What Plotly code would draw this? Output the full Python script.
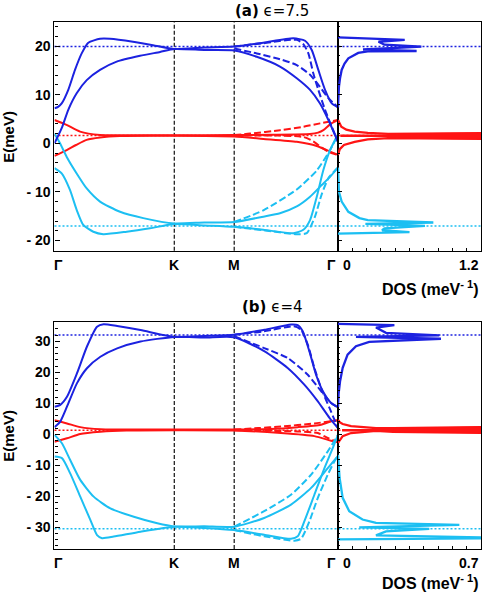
import plotly.graph_objects as go

BLUE = "#1c22e0"
RED = "#ff1414"
CYAN = "#1cbff2"

# path coordinate: Gamma=0, K=1, M=1.5, Gamma=2.366
K_X, M_X, G_X = 1.0, 1.5, 2.366

# ---------------- panel (a), eps = 7.5 ----------------
a_blue_up_x = [0, 0.03, 0.06, 0.115, 0.171, 0.227, 0.282, 0.38, 0.463, 0.655, 0.822, 1.0, 1.25, 1.5,
               1.743, 1.993, 2.091, 2.147, 2.202, 2.258, 2.314, 2.366]
a_blue_up_y = [7.2, 7.5, 8.2, 11.0, 15.1, 18.5, 20.7, 21.5, 21.5, 20.9, 20.2, 19.4, 19.7, 19.9,
               20.7, 21.6, 21.1, 19.2, 15.1, 11.0, 8.2, 7.4]
a_blue_lo_x = [0, 0.06, 0.115, 0.185, 0.269, 0.38, 0.519, 0.714, 0.881, 1.0, 1.25, 1.5,
               1.688, 1.882, 2.022, 2.133, 2.216, 2.286, 2.366]
a_blue_lo_y = [0.0, 3.1, 6.9, 10.3, 13.0, 15.1, 16.8, 18.0, 18.8, 19.4, 19.2, 19.1,
               17.8, 15.8, 13.4, 11.0, 8.2, 4.8, 0.3]
a_blue_d1_x = [1.5, 1.743, 2.022, 2.077, 2.119, 2.16, 2.202, 2.258, 2.314, 2.366]
a_blue_d1_y = [19.9, 20.6, 21.3, 20.4, 18.5, 14.4, 11.0, 6.9, 3.4, 0.3]
a_blue_d2_x = [1.5, 1.688, 1.882, 2.022, 2.133, 2.216, 2.286, 2.366]
a_blue_d2_y = [19.5, 18.5, 17.3, 16.1, 14.1, 11.6, 9.3, 7.4]

a_red_up_x = [0, 0.1, 0.213, 0.38, 0.6, 1.0, 1.5, 1.8, 2.133, 2.2, 2.244, 2.3, 2.366]
a_red_up_y = [4.8, 3.8, 2.4, 1.7, 1.65, 1.65, 1.7, 1.75, 1.9, 2.2, 2.7, 3.9, 4.8]
a_red_lo_x = [0, 0.102, 0.18, 0.268, 0.38, 0.546, 1.0, 1.5, 1.743, 2.022, 2.189, 2.3, 2.366]
a_red_lo_y = [-2.6, -1.4, -0.35, 0.7, 1.2, 1.5, 1.55, 1.4, 0.9, 0.3, -0.55, -1.7, -2.4]
a_red_d1_x = [1.5, 1.632, 1.882, 2.077, 2.216, 2.366]
a_red_d1_y = [1.7, 2.0, 2.7, 3.4, 4.1, 4.8]
a_red_d2_x = [1.5, 1.882, 2.077, 2.16, 2.23, 2.3, 2.366]
a_red_d2_y = [1.6, 1.6, 1.3, 0.4, -0.9, -1.9, -2.4]

a_cyan_up_x = [0, 0.046, 0.102, 0.185, 0.269, 0.38, 0.547, 0.741, 1.0, 1.25, 1.5,
               1.743, 1.882, 2.022, 2.133, 2.23, 2.3, 2.366]
a_cyan_up_y = [2.0, 0.0, -2.8, -6.2, -9.3, -12.0, -14.1, -15.4, -16.5, -16.3, -16.2,
               -15.1, -14.4, -13.0, -11.0, -8.6, -6.9, -5.0]
a_cyan_lo_x = [0, 0.06, 0.129, 0.185, 0.24, 0.324, 0.407, 0.603, 0.797, 1.0, 1.25, 1.5,
               1.743, 1.993, 2.077, 2.133, 2.189, 2.244, 2.3, 2.366]
a_cyan_lo_y = [-5.1, -6.2, -9.6, -13.7, -16.8, -18.2, -18.7, -18.2, -17.5, -16.6, -16.9, -17.2,
               -17.8, -18.5, -17.8, -15.8, -11.0, -5.5, -1.4, 1.8]
a_cyan_d1_x = [1.5, 1.743, 2.022, 2.189, 2.3, 2.366]
a_cyan_d1_y = [-16.2, -13.8, -9.5, -5.6, -1.4, 1.8]
a_cyan_d2_x = [1.5, 1.743, 2.022, 2.105, 2.174, 2.23, 2.29, 2.366]
a_cyan_d2_y = [-17.2, -17.9, -18.7, -18.5, -15.1, -10.5, -7.0, -5.0]

a_levels = [19.9, 1.6, -17.0]   # dotted reference lines (blue, red, cyan)

a_dos_blue_d = [0, 0.003, 0.008, 0.018, 0.031, 0.055, 0.087, 0.17, 0.25, 0.66, 0.21, 0.70, 0.39, 0.34, 0.56, 0]
a_dos_blue_e = [7.4, 9.5, 11.6, 13.5, 15.1, 16.4, 17.5, 18.6, 18.9, 19.0, 19.3, 19.9, 20.3, 20.9, 21.3, 21.8]
a_dos_red_d = [0, 0.01, 0.028, 0.07, 0.14, 0.25, 0.42, 1.3, 1.3, 0.42, 0.25, 0.14, 0.05, 0.015, 0]
a_dos_red_e = [4.8, 4.2, 3.4, 2.8, 2.4, 2.15, 1.95, 2.1, 0.9, 1.05, 0.8, 0.3, -0.35, -1.2, -2.4]
a_dos_red_mid_d = [0.02, 0.45]
a_dos_red_mid_e = [1.55, 1.55]
a_dos_red_peak_d = [0.42, 1.3, 1.3, 0.42]
a_dos_red_peak_e = [1.95, 2.1, 0.9, 1.05]
a_dos_cyan_d = [0, 0.003, 0.008, 0.031, 0.087, 0.18, 0.25, 0.80, 0.23, 0.73, 0.39, 0.37, 0.60, 0]
a_dos_cyan_e = [-5.0, -8.0, -10.0, -12.0, -14.1, -15.4, -15.8, -16.3, -16.6, -17.0, -17.5, -17.9, -18.3, -18.6]

# ---------------- panel (b), eps = 4 ----------------
b_blue_up_x = [0, 0.048, 0.104, 0.188, 0.271, 0.355, 0.41, 0.523, 0.718, 1.0, 1.25, 1.5,
               1.75, 1.974, 2.03, 2.072, 2.127, 2.183, 2.24, 2.309, 2.366]
b_blue_up_y = [8.9, 9.5, 12.1, 19.7, 28.3, 34.7, 35.5, 34.9, 33.6, 31.4, 31.7, 32.1,
               33.7, 35.4, 35.2, 33.2, 26.8, 19.2, 13.9, 10.1, 8.7]
b_blue_lo_x = [0, 0.048, 0.104, 0.188, 0.271, 0.383, 0.523, 0.718, 1.0, 1.25, 1.5,
               1.75, 1.946, 2.085, 2.198, 2.295, 2.366]
b_blue_lo_y = [2.3, 4.1, 8.9, 16.5, 21.3, 25.0, 27.7, 29.9, 31.4, 31.2, 31.3,
               26.8, 21.4, 16.0, 10.6, 5.3, 2.0]
b_blue_d1_x = [1.5, 1.748, 1.999, 2.058, 2.114, 2.169, 2.225, 2.295, 2.366]
b_blue_d1_y = [32.1, 33.2, 34.8, 33.7, 28.9, 21.4, 14.9, 8.5, 2.0]
b_blue_d2_x = [1.5, 1.75, 1.946, 2.114, 2.225, 2.309, 2.366]
b_blue_d2_y = [31.6, 27.8, 24.6, 19.2, 13.9, 10.1, 8.7]

b_red_up_x = [0, 0.104, 0.215, 0.383, 0.6, 1.0, 1.5, 1.8, 2.03, 2.225, 2.309, 2.366]
b_red_up_y = [4.5, 3.5, 2.3, 1.6, 1.55, 1.55, 1.5, 1.7, 2.3, 3.1, 4.2, 4.5]
b_red_lo_x = [0, 0.104, 0.215, 0.383, 0.6, 1.0, 1.5, 1.89, 2.169, 2.309, 2.366]
b_red_lo_y = [-2.4, -1.3, 0.1, 0.8, 1.2, 1.3, 1.2, 0.4, -0.6, -2.1, -2.6]
b_red_d1_x = [1.5, 1.7, 1.89, 2.169, 2.366]
b_red_d1_y = [1.5, 2.0, 2.5, 3.5, 4.5]
b_red_d2_x = [1.5, 2.03, 2.198, 2.28, 2.366]
b_red_d2_y = [1.3, 0.9, 0.4, -1.2, -2.6]

b_cyan_up_x = [0, 0.062, 0.131, 0.215, 0.327, 0.466, 0.662, 0.858, 1.0, 1.25, 1.5,
               1.75, 1.974, 2.142, 2.281, 2.366]
b_cyan_up_y = [-0.2, -2.9, -8.3, -14.7, -20.1, -23.9, -26.6, -28.7, -29.7, -29.7, -29.8,
               -27.0, -22.7, -17.3, -10.9, -7.0]
b_cyan_lo_x = [0, 0.062, 0.131, 0.215, 0.299, 0.355, 0.397, 0.494, 0.718, 1.0, 1.25, 1.5,
               1.75, 1.974, 2.03, 2.085, 2.169, 2.253, 2.323, 2.366]
b_cyan_lo_y = [-7.2, -7.7, -12.6, -20.1, -27.6, -32.5, -33.5, -33.0, -31.4, -29.8, -30.2, -30.9,
               -32.4, -33.7, -32.9, -28.1, -19.5, -10.9, -4.4, -0.2]
b_cyan_d1_x = [1.5, 1.75, 1.974, 2.142, 2.281, 2.366]
b_cyan_d1_y = [-29.8, -24.8, -19.5, -13.0, -5.5, -0.2]
b_cyan_d2_x = [1.5, 1.75, 2.002, 2.058, 2.127, 2.198, 2.281, 2.337, 2.366]
b_cyan_d2_y = [-30.9, -32.9, -34.3, -33.7, -28.1, -20.5, -13.0, -8.7, -7.0]

b_levels = [32.0, 1.3, -30.5]

b_dos_blue_d = [0, 0.003, 0.01, 0.023, 0.047, 0.088, 0.153, 0.504, 0.088, 0.496, 0.235, 0.186, 0.276, 0]
b_dos_blue_e = [8.8, 13.0, 17.0, 21.4, 25.7, 28.4, 29.8, 30.8, 31.4, 31.9, 32.7, 34.4, 35.2, 35.6]
b_dos_red_d = [0, 0.01, 0.023, 0.064, 0.186, 0.27, 0.8, 0.8, 0.27, 0.186, 0.064, 0.023, 0]
b_dos_red_e = [4.6, 3.8, 3.3, 2.6, 2.0, 1.95, 2.4, 0.4, 0.8, 1.1, 0.4, -0.6, -2.8]
b_dos_red_mid_d = [0.02, 0.28]
b_dos_red_mid_e = [1.3, 1.3]
b_dos_red_peak_d = [0.27, 0.8, 0.8, 0.27]
b_dos_red_peak_e = [1.95, 2.4, 0.4, 0.8]
b_dos_cyan_d = [0, 0.003, 0.008, 0.023, 0.055, 0.12, 0.186, 0.594, 0.104, 0.447, 0.235, 0.186, 0.9, 0]
b_dos_cyan_e = [-6.6, -10.0, -14.1, -20.5, -24.8, -27.5, -28.6, -29.2, -30.0, -30.5, -31.3, -32.6, -33.5, -33.9]

a_yrange = [-22.1, 24.9]
b_yrange = [-37.0, 36.2]
a_dos_max, b_dos_max = 1.2, 0.7

# layout geometry (paper fractions)
BAND_DOM = [0.1126, 0.6983]
DOS_DOM = [0.6983, 0.9938]
A_YDOM = [0.5787, 0.9625]
B_YDOM = [0.0773, 0.4588]

SOLID, DASH = "solid", "7px,3px"
TICKFONT = dict(family="Liberation Sans", size=14, color="black", weight="bold")

fig = go.Figure()


def add_bands(rows, xa, ya):
    for xs, ys, col, dash in rows:
        fig.add_trace(go.Scatter(x=xs, y=ys, mode="lines", xaxis=xa, yaxis=ya,
                                 line=dict(color=col, width=2, dash=dash, shape="spline", smoothing=0.6),
                                 showlegend=False, hoverinfo="skip"))


def add_dos(rows, peak, xa, ya):
    for ds, es, col in rows:
        fig.add_trace(go.Scatter(x=ds, y=es, mode="lines", xaxis=xa, yaxis=ya,
                                 line=dict(color=col, width=2.3), showlegend=False, hoverinfo="skip"))
    fig.add_trace(go.Scatter(x=peak[0], y=peak[1], mode="lines", fill="toself", fillcolor=RED,
                             xaxis=xa, yaxis=ya, line=dict(color=RED, width=1),
                             showlegend=False, hoverinfo="skip"))


add_bands([
    (a_red_d1_x, a_red_d1_y, RED, DASH), (a_red_d2_x, a_red_d2_y, RED, DASH),
    (a_red_up_x, a_red_up_y, RED, SOLID), (a_red_lo_x, a_red_lo_y, RED, SOLID),
    (a_cyan_d1_x, a_cyan_d1_y, CYAN, DASH), (a_cyan_d2_x, a_cyan_d2_y, CYAN, DASH),
    (a_cyan_up_x, a_cyan_up_y, CYAN, SOLID), (a_cyan_lo_x, a_cyan_lo_y, CYAN, SOLID),
    (a_blue_d1_x, a_blue_d1_y, BLUE, DASH), (a_blue_d2_x, a_blue_d2_y, BLUE, DASH),
    (a_blue_up_x, a_blue_up_y, BLUE, SOLID), (a_blue_lo_x, a_blue_lo_y, BLUE, SOLID),
], "x", "y")
add_dos([
    (a_dos_blue_d, a_dos_blue_e, BLUE), (a_dos_red_d, a_dos_red_e, RED),
    (a_dos_red_mid_d, a_dos_red_mid_e, RED), (a_dos_cyan_d, a_dos_cyan_e, CYAN),
], (a_dos_red_peak_d, a_dos_red_peak_e), "x2", "y2")

add_bands([
    (b_red_d1_x, b_red_d1_y, RED, DASH), (b_red_d2_x, b_red_d2_y, RED, DASH),
    (b_red_up_x, b_red_up_y, RED, SOLID), (b_red_lo_x, b_red_lo_y, RED, SOLID),
    (b_cyan_d1_x, b_cyan_d1_y, CYAN, DASH), (b_cyan_d2_x, b_cyan_d2_y, CYAN, DASH),
    (b_cyan_up_x, b_cyan_up_y, CYAN, SOLID), (b_cyan_lo_x, b_cyan_lo_y, CYAN, SOLID),
    (b_blue_d1_x, b_blue_d1_y, BLUE, DASH), (b_blue_d2_x, b_blue_d2_y, BLUE, DASH),
    (b_blue_up_x, b_blue_up_y, BLUE, SOLID), (b_blue_lo_x, b_blue_lo_y, BLUE, SOLID),
], "x3", "y3")
add_dos([
    (b_dos_blue_d, b_dos_blue_e, BLUE), (b_dos_red_d, b_dos_red_e, RED),
    (b_dos_red_mid_d, b_dos_red_mid_e, RED), (b_dos_cyan_d, b_dos_cyan_e, CYAN),
], (b_dos_red_peak_d, b_dos_red_peak_e), "x4", "y4")

# dotted reference energies across band + DOS, dashed K / M markers
shapes = []
for levels, yref in ((a_levels, "y"), (b_levels, "y3")):
    for lv, col in zip(levels, (BLUE, RED, CYAN)):
        shapes.append(dict(type="line", xref="paper", yref=yref, x0=BAND_DOM[0], x1=DOS_DOM[1],
                           y0=lv, y1=lv, line=dict(color=col, width=1.5, dash="2px,2px"), layer="below"))
for xref, yref in (("x", "y domain"), ("x3", "y3 domain")):
    for xv in (K_X, M_X):
        shapes.append(dict(type="line", xref=xref, yref=yref, x0=xv, x1=xv, y0=0, y1=1,
                           line=dict(color="#222222", width=1.3, dash="4px,2px"), layer="below"))

frame = dict(showline=True, mirror=True, linecolor="black", linewidth=1.3,
             showgrid=False, zeroline=False)


def band_y(rng, vals, dom, anchor):
    return dict(frame, domain=dom, range=rng, anchor=anchor, tickmode="array", tickvals=vals,
                ticktext=[("- " + str(-v)) if v < 0 else str(v) for v in vals],
                ticks="inside", ticklen=5, tickwidth=1, tickcolor="black", tickfont=TICKFONT,
                minor=dict(tickmode="linear", tick0=0, dtick=2, ticks="inside", ticklen=3,
                           tickcolor="black"))


def dos_y(rng, vals, dom, anchor):
    return dict(frame, domain=dom, range=rng, anchor=anchor, tickmode="array", tickvals=vals,
                showticklabels=False, ticks="inside", ticklen=4, tickcolor="black",
                minor=dict(tickmode="linear", tick0=0, dtick=2, ticks="inside", ticklen=2,
                           tickcolor="black"))


def band_x(anchor):
    return dict(frame, domain=BAND_DOM, range=[0, G_X], anchor=anchor, ticks="", showticklabels=False)


def dos_x(dmax, anchor):
    return dict(frame, domain=DOS_DOM, range=[0, dmax], anchor=anchor, showticklabels=False,
                tickmode="linear", tick0=0, dtick=dmax / 10, ticks="inside", ticklen=3,
                tickcolor="black")


a_ticks = [-20, -10, 0, 10, 20]
b_ticks = [-30, -20, -10, 0, 10, 20, 30]

annots = []
LABFONT = dict(family="Liberation Sans", size=14, color="black", weight="bold")
for bx, dx, ydom, dmax in (("x", "x2", A_YDOM, a_dos_max), ("x3", "x4", B_YDOM, b_dos_max)):
    for txt, xr, xv, anc, sh in (("Γ", bx, 0, "left", -2), ("K", bx, K_X, "center", 0),
                                 ("M", bx, M_X, "center", 0), ("Γ", bx, G_X, "right", 0),
                                 ("0", dx, 0, "left", 3), (str(dmax), dx, dmax, "right", 0)):
        annots.append(dict(text=txt, xref=xr, yref="paper", x=xv, y=ydom[0], xanchor=anc, yanchor="top",
                           xshift=sh, yshift=-4, showarrow=False, font=LABFONT))
    annots.append(dict(text="E(meV)", xref="paper", yref="paper", x=0.017, y=(ydom[0] + ydom[1]) / 2,
                       xanchor="center", yanchor="middle", textangle=-90, showarrow=False,
                       font=dict(LABFONT, size=15)))

annots.append(dict(text="DOS (meV<sup>- 1</sup>)", xref="paper", yref="paper", x=0.9938, y=0.516,
                   xanchor="right", yanchor="middle", showarrow=False, font=dict(LABFONT, size=16)))
annots.append(dict(text="DOS (meV<sup>- 1</sup>)", xref="paper", yref="paper", x=0.9938, y=0.0,
                   xanchor="right", yanchor="bottom", yshift=1, showarrow=False, font=dict(LABFONT, size=16)))
TITLEFONT = dict(family="DejaVu Sans", size=15, color="black")
annots.append(dict(text="<b>(a)</b> ϵ=7.5", xref="paper", yref="paper", x=0.561, y=0.9815,
                   xanchor="center", yanchor="middle", showarrow=False, font=TITLEFONT))
annots.append(dict(text="<b>(b)</b> ϵ=4", xref="paper", yref="paper", x=0.562, y=0.484,
                   xanchor="center", yanchor="middle", showarrow=False, font=TITLEFONT))

fig.update_layout(
    width=484, height=595, autosize=False,
    margin=dict(l=0, r=0, t=0, b=0),
    paper_bgcolor="white", plot_bgcolor="white",
    showlegend=False,
    xaxis=band_x("y"), yaxis=band_y(a_yrange, a_ticks, A_YDOM, "x"),
    xaxis2=dos_x(a_dos_max, "y2"), yaxis2=dos_y(a_yrange, a_ticks, A_YDOM, "x2"),
    xaxis3=band_x("y3"), yaxis3=band_y(b_yrange, b_ticks, B_YDOM, "x3"),
    xaxis4=dos_x(b_dos_max, "y4"), yaxis4=dos_y(b_yrange, b_ticks, B_YDOM, "x4"),
    shapes=shapes, annotations=annots,
)

# the page body has a default 8px margin; drop it so the figure sits at the window's corner
fig.write_html("out.html", config={"displayModeBar": False},
               post_script="document.body.style.margin='0px';")
